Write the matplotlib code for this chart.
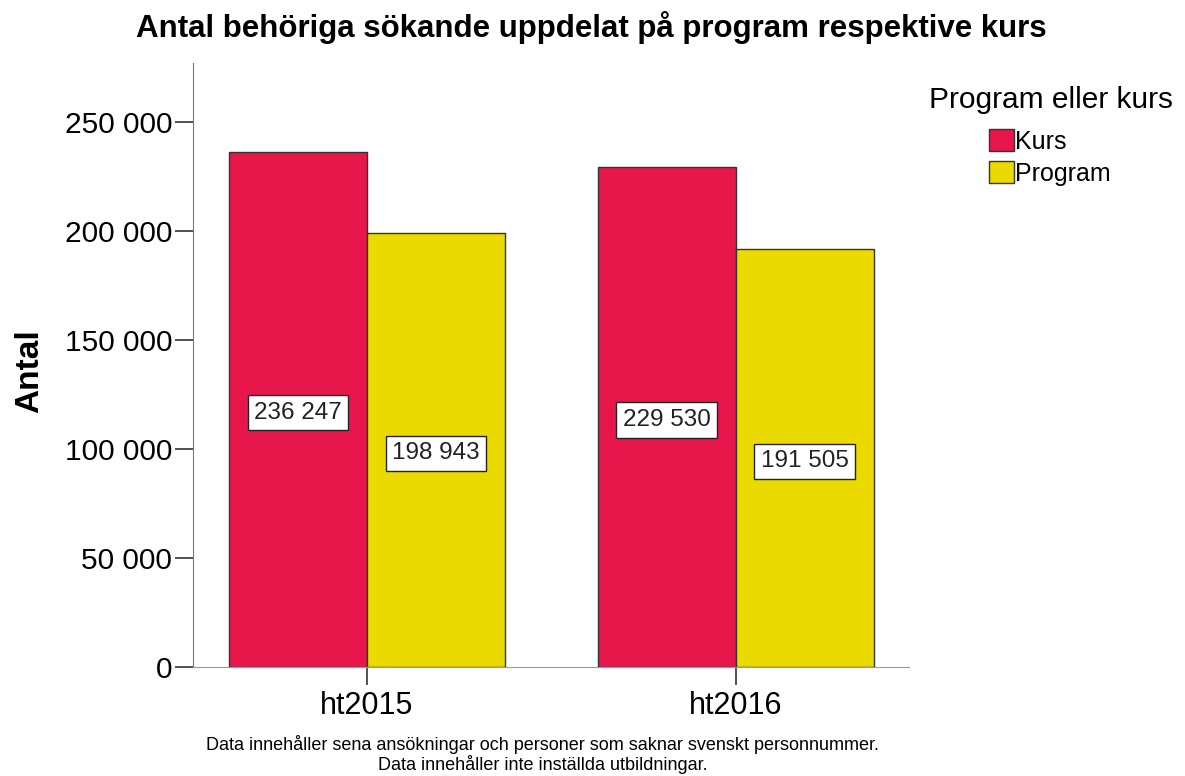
import numpy as np
import matplotlib
matplotlib.use("Agg")
import matplotlib.pyplot as plt
from matplotlib import font_manager

# Data
terms = ["ht2015", "ht2016"]
kurs = [236247, 229530]
program = [198943, 191505]
series_names = ["Kurs", "Program"]
yticks = [0, 50000, 100000, 150000, 200000, 250000]

red = "#E8174B"
yellow = "#EBDA00"

names = set(f.name for f in font_manager.fontManager.ttflist)
main_font = "Liberation Sans" if "Liberation Sans" in names else "DejaVu Sans"
narrow_font = "Liberation Sans Narrow" if "Liberation Sans Narrow" in names else main_font
plt.rcParams["font.family"] = [main_font, "DejaVu Sans"]

fig = plt.figure(figsize=(11.85, 7.76), dpi=100)
ax = fig.add_axes([0.1629, 0.1405, 0.6042, 0.7783])

x = np.arange(len(terms))
w = 0.374
b1 = ax.bar(x - w / 2, kurs, w, color=red, edgecolor="#333333", linewidth=1, label=series_names[0])
b2 = ax.bar(x + w / 2, program, w, color=yellow, edgecolor="#333333", linewidth=1, label=series_names[1])

def fmt(v):
    return "{:,}".format(int(v)).replace(",", " ")

for bars, vals in [(b1, kurs), (b2, program)]:
    for r, v in zip(bars, vals):
        ax.text(r.get_x() + r.get_width() / 2, v / 2 - 1500, fmt(v), ha="center", va="center",
                fontsize=17.5, color="#222222",
                bbox=dict(boxstyle="square,pad=0.27", facecolor="white", edgecolor="#222222", linewidth=1))

ax.set_xlim(-0.4715, 1.469)
ax.set_ylim(0, 277000)
ax.set_yticks(yticks)
ax.set_yticklabels([fmt(v) for v in yticks], fontsize=21.5)
ax.set_xticks(x)
ax.set_xticklabels(terms, fontsize=22)
ax.tick_params(axis="y", length=13, width=1.2, color="#333333", pad=2)
ax.tick_params(axis="x", length=13, width=1.2, color="#333333", pad=4)
for s in ["top", "right"]:
    ax.spines[s].set_visible(False)
ax.spines["left"].set_color("#777777")
ax.spines["bottom"].set_color("#999999")
ax.set_ylabel("Antal", fontsize=24, fontweight="bold")
ax.yaxis.set_label_coords(-0.207, 0.49)

fig.text(0.4987, 0.964, "Antal behöriga sökande uppdelat på program respektive kurs",
         ha="center", va="center", fontsize=22.5, fontweight="bold")

# legend title drawn separately so the gap to the entries can be set freely
fig.text(0.8865, 0.871, "Program eller kurs", ha="center", va="center", fontsize=21.5)
leg = fig.legend(handles=[b1, b2], labels=series_names, loc="upper center",
                 bbox_to_anchor=(0.886, 0.834), frameon=False, fontsize=18,
                 borderpad=0, borderaxespad=0,
                 handlelength=1.0, handleheight=1.0, handletextpad=0.05, labelspacing=0.3)

fig.text(0.458, 0.0277, "Data innehåller sena ansökningar och personer som saknar svenskt personnummer.\n"
         "Data innehåller inte inställda utbildningar.",
         ha="center", va="center", fontsize=13, family=narrow_font, linespacing=1.05)

fig.savefig("out.png", dpi=100)
